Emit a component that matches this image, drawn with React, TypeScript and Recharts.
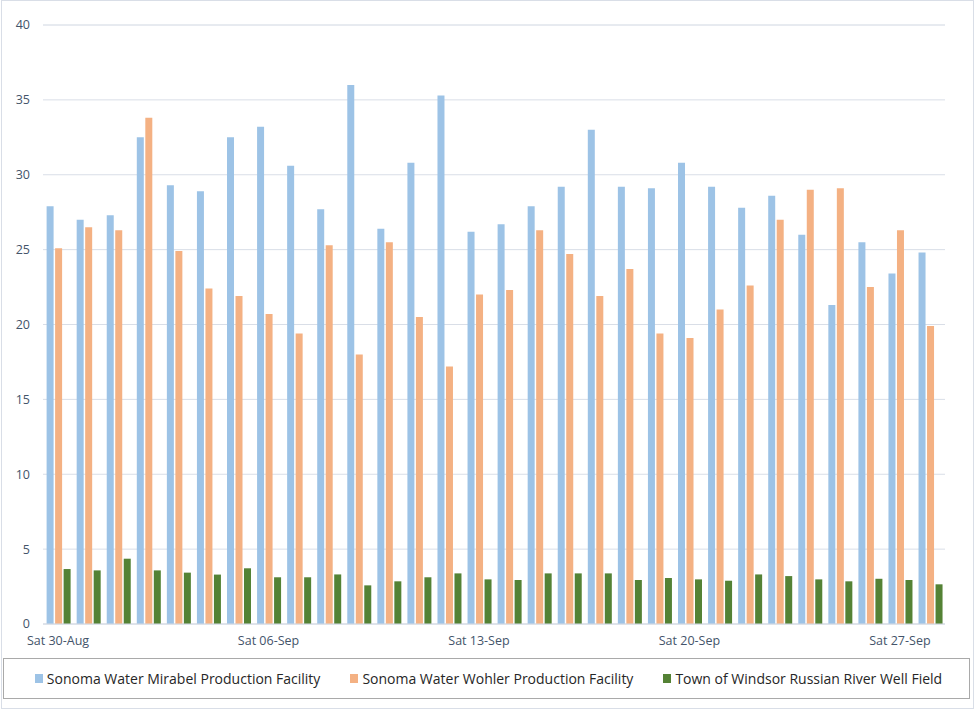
import { BarChart, Bar, XAxis, YAxis, CartesianGrid } from 'recharts';

const days = [
  'Sat 30-Aug', 'Sun 31-Aug', 'Mon 01-Sep', 'Tue 02-Sep', 'Wed 03-Sep', 'Thu 04-Sep', 'Fri 05-Sep',
  'Sat 06-Sep', 'Sun 07-Sep', 'Mon 08-Sep', 'Tue 09-Sep', 'Wed 10-Sep', 'Thu 11-Sep', 'Fri 12-Sep',
  'Sat 13-Sep', 'Sun 14-Sep', 'Mon 15-Sep', 'Tue 16-Sep', 'Wed 17-Sep', 'Thu 18-Sep', 'Fri 19-Sep',
  'Sat 20-Sep', 'Sun 21-Sep', 'Mon 22-Sep', 'Tue 23-Sep', 'Wed 24-Sep', 'Thu 25-Sep', 'Fri 26-Sep',
  'Sat 27-Sep', 'Sun 28-Sep',
];

const mirabel = [
  27.9, 27.0, 27.3, 32.5, 29.3, 28.9, 32.5, 33.2, 30.6, 27.7,
  36.0, 26.4, 30.8, 35.3, 26.2, 26.7, 27.9, 29.2, 33.0, 29.2,
  29.1, 30.8, 29.2, 27.8, 28.6, 26.0, 21.3, 25.5, 23.4, 24.8,
];

const wohler = [
  25.1, 26.5, 26.3, 33.8, 24.9, 22.4, 21.9, 20.7, 19.4, 25.3,
  18.0, 25.5, 20.5, 17.2, 22.0, 22.3, 26.3, 24.7, 21.9, 23.7,
  19.4, 19.1, 21.0, 22.6, 27.0, 29.0, 29.1, 22.5, 26.3, 19.9,
];

const windsor = [
  3.67, 3.58, 4.36, 3.58, 3.43, 3.3, 3.72, 3.12, 3.12, 3.31,
  2.58, 2.85, 3.12, 3.38, 2.98, 2.94, 3.38, 3.38, 3.38, 2.94,
  3.07, 2.98, 2.89, 3.31, 3.2, 2.98, 2.85, 3.02, 2.94, 2.65,
];

const majorTicks = [0, 5, 10, 15, 20, 25, 30, 35, 40];
// minor gridlines between the labelled ticks
const minorTicks = [
  1, 2, 3, 4, 6, 7, 8, 9, 11, 12, 13, 14, 16, 17, 18, 19,
  21, 22, 23, 24, 26, 27, 28, 29, 31, 32, 33, 34, 36, 37, 38, 39,
];

const seriesNames = [
  'Sonoma Water Mirabel Production Facility',
  'Sonoma Water Wohler Production Facility',
  'Town of Windsor Russian River Well Field',
];
const seriesColors = ['#9dc3e6', '#f4b183', '#548235'];

const chartData = days.map((day, i) => ({
  day,
  mirabel: mirabel[i],
  wohler: wohler[i],
  windsor: windsor[i],
}));

const font = '"Open Sans", "Noto Sans", sans-serif';
const tickStyle = { fill: '#44546a', fontSize: 12.5, fontFamily: font };
const chartMargin = { top: 25, right: 33, bottom: 66, left: 0 };

export default function App() {
  return (
    <div style={{ position: 'absolute', left: 0, top: 0, width: 978, height: 720, background: '#fff', fontFamily: font }}>
      {/* outer chart frame */}
      <div
        style={{
          position: 'absolute',
          left: 1,
          top: 0,
          width: 971,
          height: 707,
          border: '1px solid #d9dee7',
        }}
      />

      {/* minor gridlines, drawn in a chart of the same layout behind the bars */}
      <div style={{ position: 'absolute', left: 0, top: 0 }}>
        <BarChart width={978} height={720} data={chartData} margin={chartMargin}>
          <CartesianGrid vertical={false} stroke="#eceef2" />
          <YAxis width={43} domain={[0, 40]} ticks={minorTicks} axisLine={false} tickLine={false} tick={false} />
          <XAxis dataKey="day" height={30} axisLine={false} tickLine={false} tick={false} />
          <Bar dataKey="mirabel" fill="none" isAnimationActive={false} />
        </BarChart>
      </div>

      <div style={{ position: 'absolute', left: 0, top: 0 }}>
        <BarChart
          width={978}
          height={720}
          data={chartData}
          margin={chartMargin}
          barCategoryGap="12%"
          barGap={1.5}
        >
          <CartesianGrid vertical={false} stroke="#d9dee7" />
          <YAxis
            width={43}
            domain={[0, 40]}
            ticks={majorTicks}
            axisLine={false}
            tickLine={false}
            tickMargin={7}
            tick={tickStyle}
          />
          <XAxis
            dataKey="day"
            interval={6}
            height={30}
            tickLine={false}
            tickMargin={6}
            axisLine={{ stroke: '#d6dbe4' }}
            tick={tickStyle}
          />
          <Bar dataKey="mirabel" name={seriesNames[0]} fill={seriesColors[0]} isAnimationActive={false} />
          <Bar dataKey="wohler" name={seriesNames[1]} fill={seriesColors[1]} isAnimationActive={false} />
          <Bar dataKey="windsor" name={seriesNames[2]} fill={seriesColors[2]} isAnimationActive={false} />
        </BarChart>
      </div>

      {/* legend box */}
      <div
        style={{
          position: 'absolute',
          left: 3,
          top: 658,
          width: 967,
          height: 41,
          border: '1px solid #a9a9a9',
          display: 'flex',
          alignItems: 'center',
          justifyContent: 'center',
          gap: 30,
          paddingLeft: 4,
          boxSizing: 'border-box',
        }}
      >
        {seriesNames.map((name, i) => (
          <div key={name} style={{ display: 'flex', alignItems: 'center' }}>
            <span style={{ width: 8, height: 9, background: seriesColors[i], marginRight: 4, display: 'inline-block' }} />
            <span style={{ fontSize: 14, color: '#262626', whiteSpace: 'nowrap' }}>{name}</span>
          </div>
        ))}
      </div>
    </div>
  );
}
